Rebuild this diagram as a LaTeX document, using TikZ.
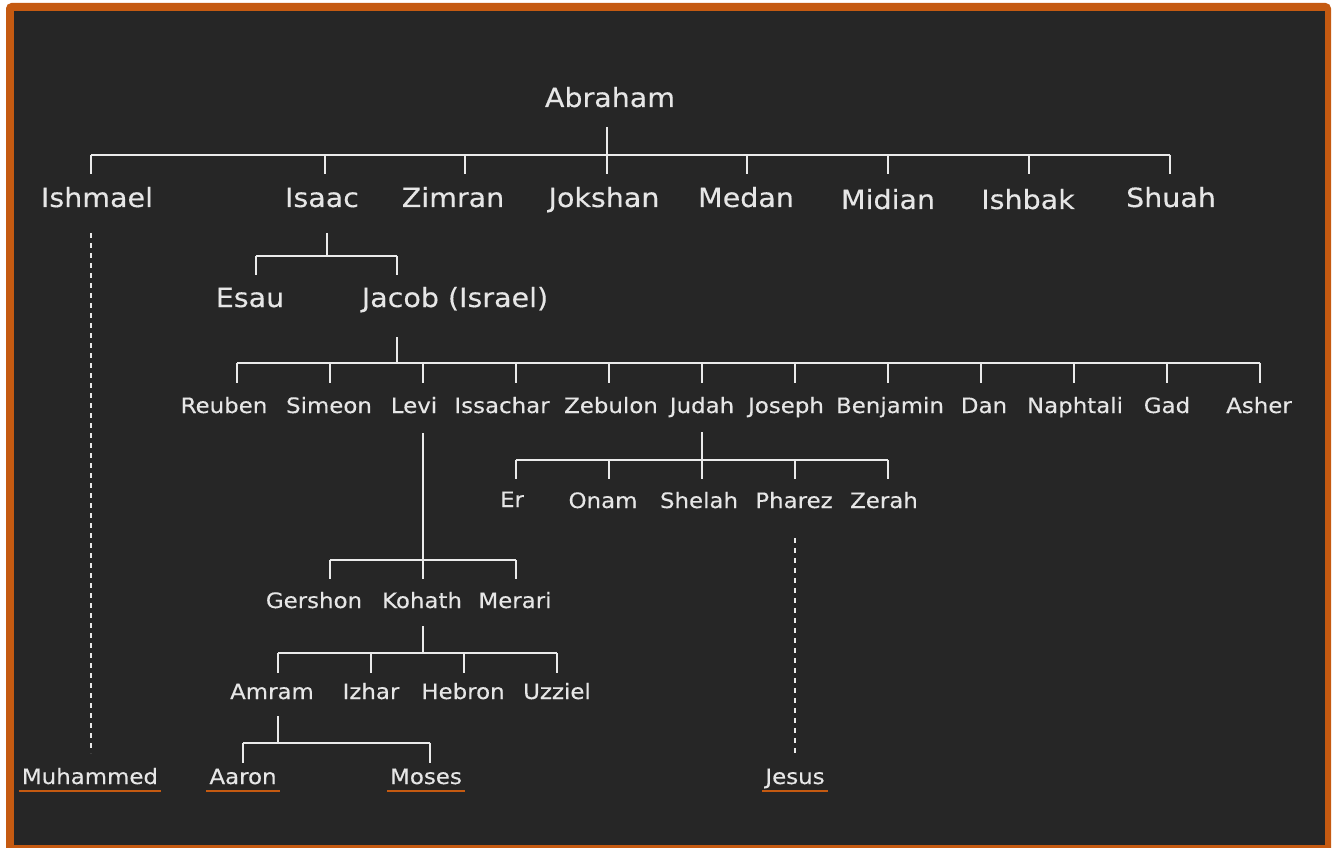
\documentclass[tikz,border=0pt]{standalone}
\usepackage{fontspec}
\newfontfamily\treefont[FakeStretch=1.08,FakeBold=0.3]{DejaVu Sans}
\definecolor{bgdark}{HTML}{262626}
\definecolor{frame}{HTML}{C55A11}
\definecolor{ink}{HTML}{E6E6E6}
\definecolor{wire}{HTML}{EAEAEA}
\begin{document}
\begin{tikzpicture}[x=0.75pt,y=-0.75pt,
  bigname/.style={anchor=base,inner sep=0pt,text=ink,font=\treefont\fontsize{19.8}{23}\selectfont},
  smallname/.style={anchor=base,inner sep=0pt,text=ink,font=\treefont\fontsize{15.9}{19}\selectfont},
  tree/.style={draw=wire,line width=1.6pt},
  dotted line/.style={draw=wire,line width=1.6pt,dash pattern=on 4pt off 3.5pt},
  uline/.style={draw=frame,line width=1.6pt}]
\useasboundingbox (0,0) rectangle (1337,848);
\fill[frame,rounded corners=4pt] (6,3) rectangle (1331,856);
\fill[bgdark] (14,11) rectangle (1325,845);

% ---------- generation 1 ----------
\node[bigname] (abraham) at (610,107) {Abraham};
\coordinate (abr-s) at (607,127);
\coordinate (abr-j) at (607,155);

\node[bigname] (ishmael) at (97,207) {Ishmael};
\node[bigname] (isaac) at (322,207) {Isaac};
\node[bigname] (zimran) at (453,207) {Zimran};
\node[bigname] (jokshan) at (604,207) {Jokshan};
\node[bigname] (medan) at (746,207) {Medan};
\node[bigname] (midian) at (888,209) {Midian};
\node[bigname] (ishbak) at (1028,209) {Ishbak};
\node[bigname] (shuah) at (1171,207) {Shuah};
\coordinate (d-ishmael) at (91,174);
\coordinate (d-isaac) at (325,174);
\coordinate (d-zimran) at (465,174);
\coordinate (d-jokshan) at (607,174);
\coordinate (d-medan) at (747,174);
\coordinate (d-midian) at (888,174);
\coordinate (d-ishbak) at (1029,174);
\coordinate (d-shuah) at (1170,174);
\draw[tree] (abr-s) -- (abr-j);
\draw[tree] (d-ishmael |- abr-j) -- (d-shuah |- abr-j);
\foreach \c in {ishmael,isaac,zimran,jokshan,medan,midian,ishbak,shuah}
  \draw[tree] (d-\c |- abr-j) -- (d-\c);

% ---------- Isaac ----------
\coordinate (isa-s) at (327,233);
\coordinate (isa-j) at (327,256);
\node[bigname] (esau) at (250,307) {Esau};
\node[bigname] (jacob) at (455,307) {Jacob (Israel)};
\coordinate (d-esau) at (256,275);
\coordinate (d-jacob) at (397,275);
\draw[tree] (isa-s) -- (isa-j);
\draw[tree] (d-esau |- isa-j) -- (d-jacob |- isa-j);
\draw[tree] (d-esau |- isa-j) -- (d-esau);
\draw[tree] (d-jacob |- isa-j) -- (d-jacob);

% ---------- Jacob ----------
\coordinate (jac-s) at (397,337);
\coordinate (jac-j) at (397,363);
\node[smallname] (reuben) at (224,413) {Reuben};
\node[smallname] (simeon) at (329,413) {Simeon};
\node[smallname] (levi) at (414,413) {Levi};
\node[smallname] (issachar) at (502,413) {Issachar};
\node[smallname] (zebulon) at (611,413) {Zebulon};
\node[smallname] (judah) at (702,413) {Judah};
\node[smallname] (joseph) at (786,413) {Joseph};
\node[smallname] (benjamin) at (890,413) {Benjamin};
\node[smallname] (dan) at (984,413) {Dan};
\node[smallname] (naphtali) at (1075,413) {Naphtali};
\node[smallname] (gad) at (1167,413) {Gad};
\node[smallname] (asher) at (1259,413) {Asher};
\coordinate (d-reuben) at (237,383);
\coordinate (d-simeon) at (330,383);
\coordinate (d-levi) at (423,383);
\coordinate (d-issachar) at (516,383);
\coordinate (d-zebulon) at (609,383);
\coordinate (d-judah) at (702,383);
\coordinate (d-joseph) at (795,383);
\coordinate (d-benjamin) at (888,383);
\coordinate (d-dan) at (981,383);
\coordinate (d-naphtali) at (1074,383);
\coordinate (d-gad) at (1167,383);
\coordinate (d-asher) at (1260,383);
\draw[tree] (jac-s) -- (jac-j);
\draw[tree] (d-reuben |- jac-j) -- (d-asher |- jac-j);
\foreach \c in {reuben,simeon,levi,issachar,zebulon,judah,joseph,benjamin,dan,naphtali,gad,asher}
  \draw[tree] (d-\c |- jac-j) -- (d-\c);

% ---------- Judah ----------
\coordinate (jud-s) at (702,432);
\coordinate (jud-j) at (702,460);
\node[smallname] (er) at (512,507) {Er};
\node[smallname] (onam) at (603,508) {Onam};
\node[smallname] (shelah) at (699,508) {Shelah};
\node[smallname] (pharez) at (794,508) {Pharez};
\node[smallname] (zerah) at (884,508) {Zerah};
\coordinate (d-er) at (516,479);
\coordinate (d-onam) at (609,479);
\coordinate (d-shelah) at (702,479);
\coordinate (d-pharez) at (795,479);
\coordinate (d-zerah) at (888,479);
\draw[tree] (jud-s) -- (jud-j);
\draw[tree] (d-er |- jud-j) -- (d-zerah |- jud-j);
\foreach \c in {er,onam,shelah,pharez,zerah}
  \draw[tree] (d-\c |- jud-j) -- (d-\c);

% ---------- Levi ----------
\coordinate (lev-s) at (423,433);
\coordinate (lev-j) at (423,560);
\node[smallname] (gershon) at (314,608) {Gershon};
\node[smallname] (kohath) at (422,608) {Kohath};
\node[smallname] (merari) at (515,608) {Merari};
\coordinate (d-gershon) at (330,579);
\coordinate (d-kohath) at (423,579);
\coordinate (d-merari) at (516,579);
\draw[tree] (lev-s) -- (lev-j);
\draw[tree] (d-gershon |- lev-j) -- (d-merari |- lev-j);
\foreach \c in {gershon,kohath,merari}
  \draw[tree] (d-\c |- lev-j) -- (d-\c);

% ---------- Kohath ----------
\coordinate (koh-s) at (423,626);
\coordinate (koh-j) at (423,653);
\node[smallname] (amram) at (272,699) {Amram};
\node[smallname] (izhar) at (371,699) {Izhar};
\node[smallname] (hebron) at (463,699) {Hebron};
\node[smallname] (uzziel) at (557,699) {Uzziel};
\coordinate (d-amram) at (278,673);
\coordinate (d-izhar) at (371,673);
\coordinate (d-hebron) at (464,673);
\coordinate (d-uzziel) at (557,673);
\draw[tree] (koh-s) -- (koh-j);
\draw[tree] (d-amram |- koh-j) -- (d-uzziel |- koh-j);
\foreach \c in {amram,izhar,hebron,uzziel}
  \draw[tree] (d-\c |- koh-j) -- (d-\c);

% ---------- Amram ----------
\coordinate (amr-s) at (278,716);
\coordinate (amr-j) at (278,743);
\node[smallname] (aaron) at (243,784) {Aaron};
\node[smallname] (moses) at (426,784) {Moses};
\coordinate (d-aaron) at (243,763);
\coordinate (d-moses) at (430,763);
\draw[tree] (amr-s) -- (amr-j);
\draw[tree] (d-aaron |- amr-j) -- (d-moses |- amr-j);
\draw[tree] (d-aaron |- amr-j) -- (d-aaron);
\draw[tree] (d-moses |- amr-j) -- (d-moses);

% ---------- descendants ----------
\node[smallname] (muhammed) at (90,784) {Muhammed};
\node[smallname] (jesus) at (795,784) {Jesus};
\coordinate (ish-top) at (91,233);
\coordinate (ish-bot) at (91,753);
\coordinate (pha-top) at (795,538);
\coordinate (pha-bot) at (795,757);
\draw[dotted line] (ish-top) -- (ish-bot);
\draw[dotted line] (pha-top) -- (pha-bot);

\foreach \c in {muhammed,aaron,moses,jesus}
  \draw[uline] ([shift={(-3,7)}]\c.base west) -- ([shift={(3,7)}]\c.base east);
\end{tikzpicture}
\end{document}
